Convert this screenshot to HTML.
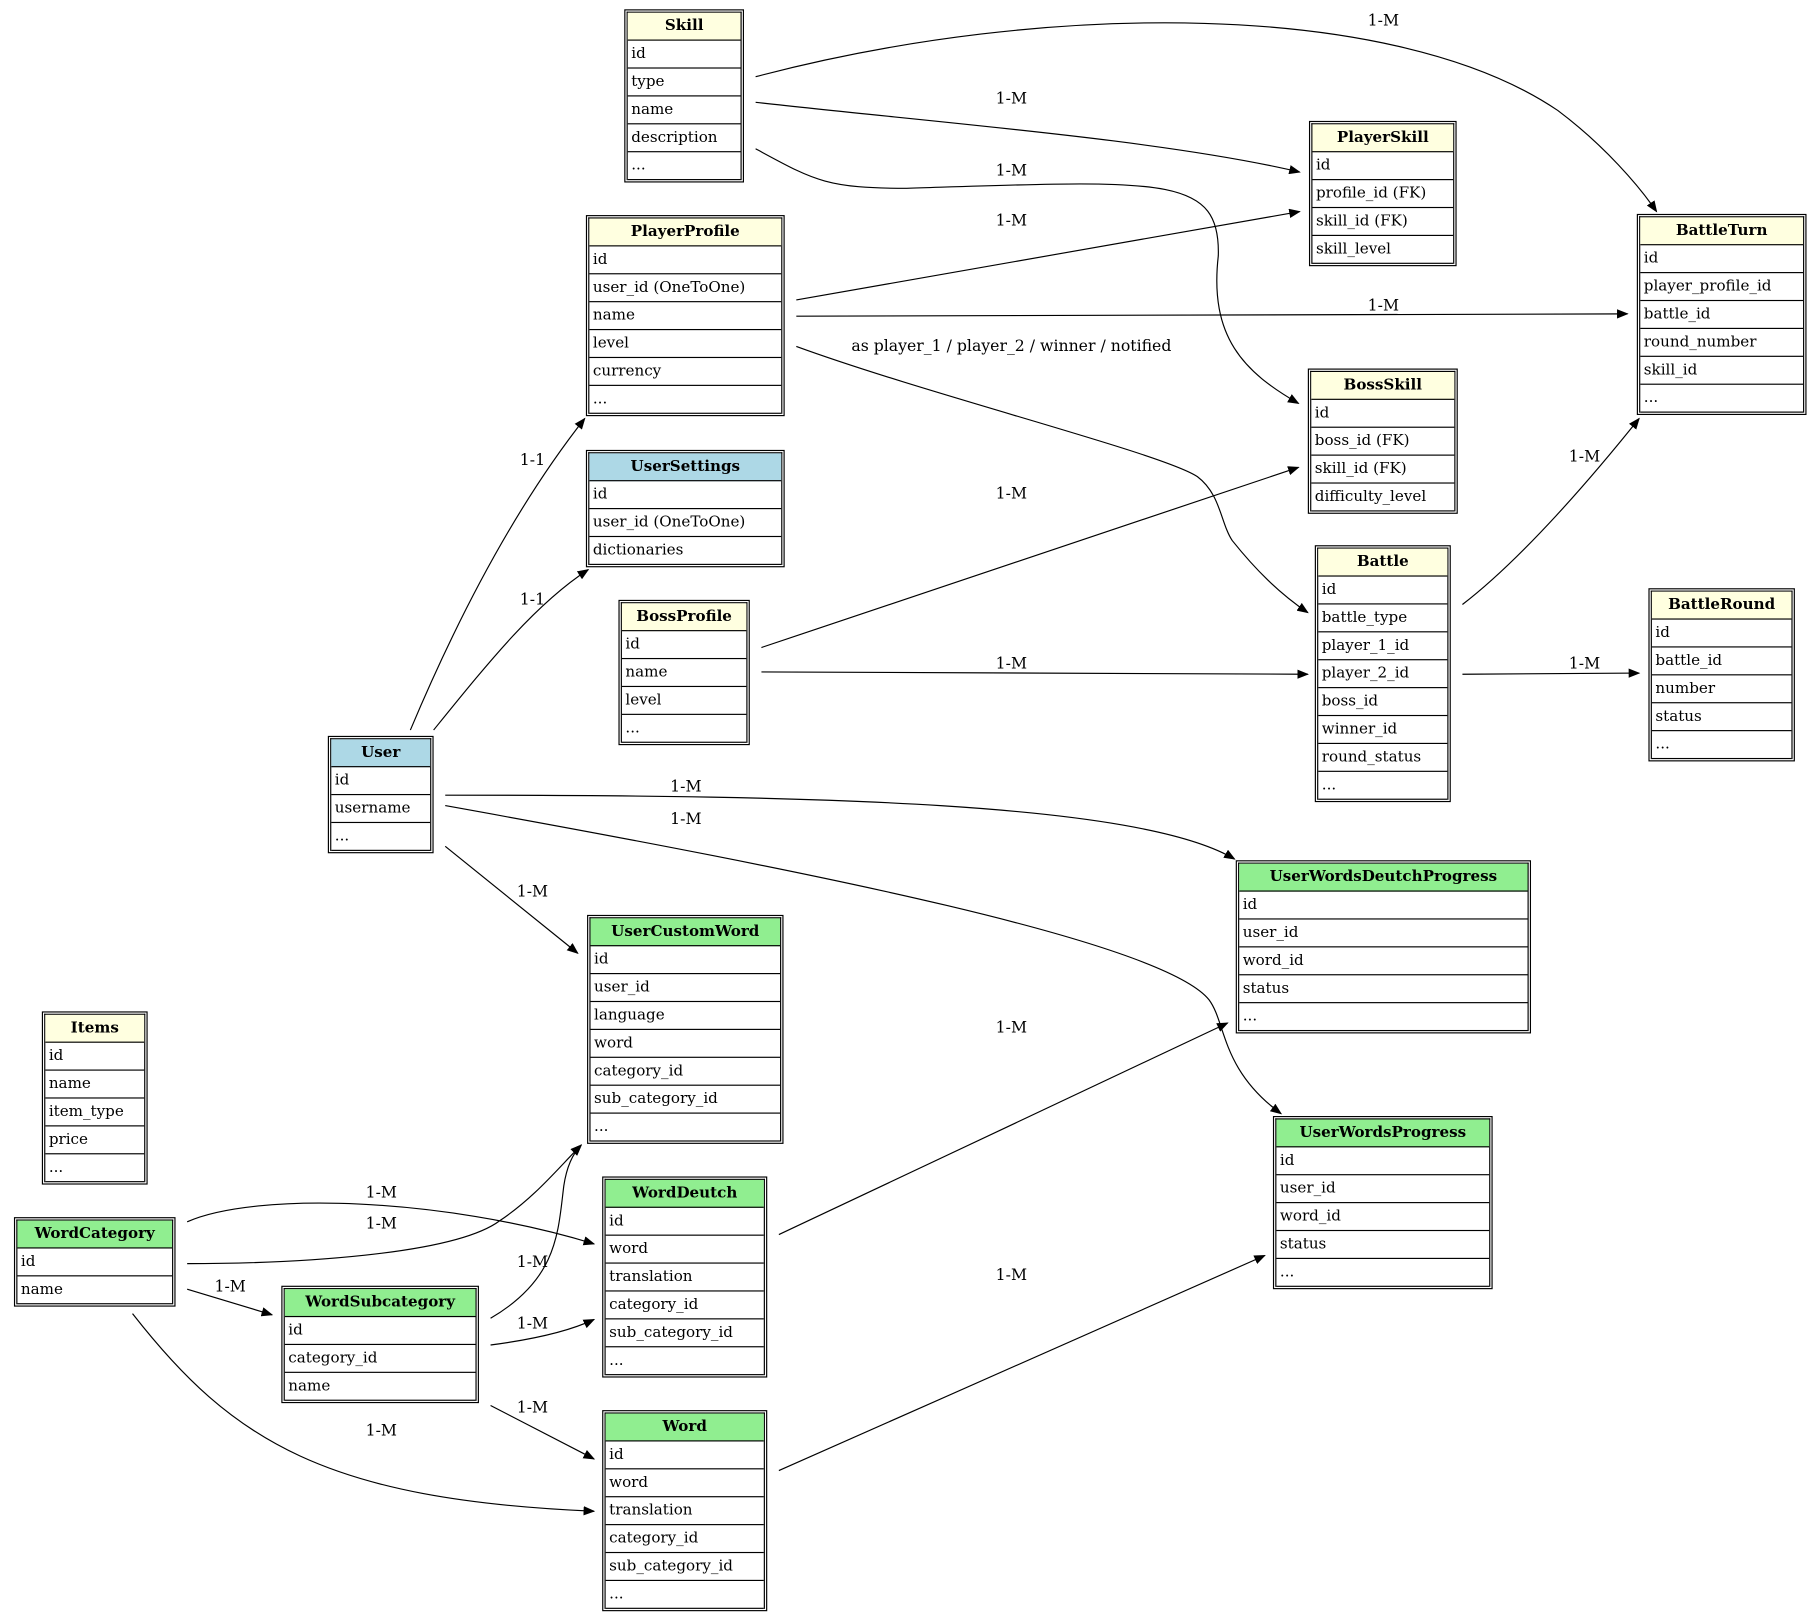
<!DOCTYPE html>
<html><head><meta charset="utf-8"><style>
html,body{margin:0;padding:0;background:#fff;width:1820px;height:1619px;overflow:hidden}
#c{position:absolute;left:0;top:0;width:1563px;height:1390px;transform:scale(1.1625);transform-origin:0 0;font-family:"DejaVu Serif","Liberation Serif",serif;font-size:13px}
.t{position:absolute;border:1px solid #000;padding:1px;background:#fff;box-sizing:border-box}
.in{border:1px solid #000;border-bottom:none}
.in div{height:23px;line-height:23px;border-bottom:1px solid #000;padding-left:3px;white-space:nowrap;overflow:hidden}
.in .h{font-weight:bold;text-align:center;padding-left:0}
.y{background:#ffffe0}.b{background:#add8e6}.g{background:#90ee90}
svg{position:absolute;left:0;top:0}
svg text{font-family:"DejaVu Serif","Liberation Serif",serif;font-size:13.5px;text-anchor:middle}
</style></head><body><div id="c">
<svg width="1563" height="1390" viewBox="0 0 1563 1390">
<defs><marker id="a" markerWidth="10" markerHeight="8" refX="9" refY="4" orient="auto" markerUnits="userSpaceOnUse"><path d="M0,0 L10,4 L0,8 z" fill="#000"/></marker></defs>
<g fill="none" stroke="#000" stroke-width="1" marker-end="url(#a)">
<path d="M650,66 C900,0 1200,0 1340,95 C1380,125 1410,160 1425,182"/>
<path d="M650,88 C800,105 1000,120 1118,148"/>
<path d="M650,128 C700,155 710,162 780,162 C1000,155 1050,150 1048,220 C1040,290 1070,320 1117,347"/>
<path d="M685,258 L1118,182"/>
<path d="M685,272 L1400,270"/>
<path d="M685,298 C800,340 1000,390 1030,410 C1050,425 1050,450 1060,465 C1080,490 1100,510 1125,527"/>
<path d="M353,628 C390,540 440,440 503,360"/>
<path d="M373,628 C420,570 460,520 506,490"/>
<path d="M655,557 L1117,402"/>
<path d="M655,578 L1125,580"/>
<path d="M1258,520 C1310,480 1370,410 1410,360"/>
<path d="M1258,580 L1410,579"/>
<path d="M383,684 C700,684 980,690 1062,739"/>
<path d="M383,693 C700,750 1000,810 1040,860 C1055,880 1050,920 1102,958"/>
<path d="M383,728 L497,820"/>
<path d="M670,1062 L1056,880"/>
<path d="M670,1265 L1088,1080"/>
<path d="M161,1051 C220,1025 380,1030 511,1070"/>
<path d="M161,1087 C250,1087 390,1080 430,1050 C460,1030 480,1005 500,985"/>
<path d="M161,1109 L234,1131"/>
<path d="M114,1130 C200,1240 280,1290 511,1300"/>
<path d="M422,1134 C480,1100 480,1060 485,1020 C488,1000 495,990 500,985"/>
<path d="M422,1157 C460,1152 490,1145 511,1135"/>
<path d="M422,1209 L511,1255"/>
</g>
<text x="1190" y="22">1-M</text>
<text x="870" y="89">1-M</text>
<text x="870" y="151">1-M</text>
<text x="870" y="194">1-M</text>
<text x="1190" y="267">1-M</text>
<text x="870" y="302">as player_1 / player_2 / winner / notified</text>
<text x="458" y="400">1-1</text>
<text x="458" y="520">1-1</text>
<text x="870" y="429">1-M</text>
<text x="870" y="575">1-M</text>
<text x="1363" y="397">1-M</text>
<text x="1363" y="575">1-M</text>
<text x="590" y="681">1-M</text>
<text x="590" y="709">1-M</text>
<text x="458" y="771">1-M</text>
<text x="870" y="888">1-M</text>
<text x="870" y="1101">1-M</text>
<text x="328" y="1030">1-M</text>
<text x="328" y="1057">1-M</text>
<text x="198" y="1111">1-M</text>
<text x="328" y="1235">1-M</text>
<text x="458" y="1090">1-M</text>
<text x="458" y="1143">1-M</text>
<text x="458" y="1215">1-M</text>
</svg>

<div class="t" style="left:537px;top:8px;width:103px"><div class="in"><div class="h y">Skill</div><div>id</div><div>type</div><div>name</div><div>description</div><div>...</div></div></div>
<div class="t" style="left:1126px;top:104px;width:127px"><div class="in"><div class="h y">PlayerSkill</div><div>id</div><div>profile_id (FK)</div><div>skill_id (FK)</div><div>skill_level</div></div></div>
<div class="t" style="left:1408px;top:184px;width:146px"><div class="in"><div class="h y">BattleTurn</div><div>id</div><div>player_profile_id</div><div>battle_id</div><div>round_number</div><div>skill_id</div><div>...</div></div></div>
<div class="t" style="left:504px;top:185px;width:171px"><div class="in"><div class="h y">PlayerProfile</div><div>id</div><div>user_id (OneToOne)</div><div>name</div><div>level</div><div>currency</div><div>...</div></div></div>
<div class="t" style="left:504px;top:387px;width:171px"><div class="in"><div class="h b">UserSettings</div><div>id</div><div>user_id (OneToOne)</div><div>dictionaries</div></div></div>
<div class="t" style="left:1125px;top:317px;width:129px"><div class="in"><div class="h y">BossSkill</div><div>id</div><div>boss_id (FK)</div><div>skill_id (FK)</div><div>difficulty_level</div></div></div>
<div class="t" style="left:532px;top:516px;width:113px"><div class="in"><div class="h y">BossProfile</div><div>id</div><div>name</div><div>level</div><div>...</div></div></div>
<div class="t" style="left:1131px;top:469px;width:117px"><div class="in"><div class="h y">Battle</div><div>id</div><div>battle_type</div><div>player_1_id</div><div>player_2_id</div><div>boss_id</div><div>winner_id</div><div>round_status</div><div>...</div></div></div>
<div class="t" style="left:1418px;top:506px;width:126px"><div class="in"><div class="h y">BattleRound</div><div>id</div><div>battle_id</div><div>number</div><div>status</div><div>...</div></div></div>
<div class="t" style="left:282px;top:633px;width:91px"><div class="in"><div class="h b">User</div><div>id</div><div>username</div><div>...</div></div></div>
<div class="t" style="left:1063px;top:740px;width:254px"><div class="in"><div class="h g">UserWordsDeutchProgress</div><div>id</div><div>user_id</div><div>word_id</div><div>status</div><div>...</div></div></div>
<div class="t" style="left:505px;top:787px;width:169px"><div class="in"><div class="h g">UserCustomWord</div><div>id</div><div>user_id</div><div>language</div><div>word</div><div>category_id</div><div>sub_category_id</div><div>...</div></div></div>
<div class="t" style="left:36px;top:870px;width:91px"><div class="in"><div class="h y">Items</div><div>id</div><div>name</div><div>item_type</div><div>price</div><div>...</div></div></div>
<div class="t" style="left:1095px;top:960px;width:189px"><div class="in"><div class="h g">UserWordsProgress</div><div>id</div><div>user_id</div><div>word_id</div><div>status</div><div>...</div></div></div>
<div class="t" style="left:12px;top:1047px;width:139px"><div class="in"><div class="h g">WordCategory</div><div>id</div><div>name</div></div></div>
<div class="t" style="left:518px;top:1012px;width:142px"><div class="in"><div class="h g">WordDeutch</div><div>id</div><div>word</div><div>translation</div><div>category_id</div><div>sub_category_id</div><div>...</div></div></div>
<div class="t" style="left:242px;top:1106px;width:170px"><div class="in"><div class="h g">WordSubcategory</div><div>id</div><div>category_id</div><div>name</div></div></div>
<div class="t" style="left:518px;top:1213px;width:142px"><div class="in"><div class="h g">Word</div><div>id</div><div>word</div><div>translation</div><div>category_id</div><div>sub_category_id</div><div>...</div></div></div>
</div></body></html>
